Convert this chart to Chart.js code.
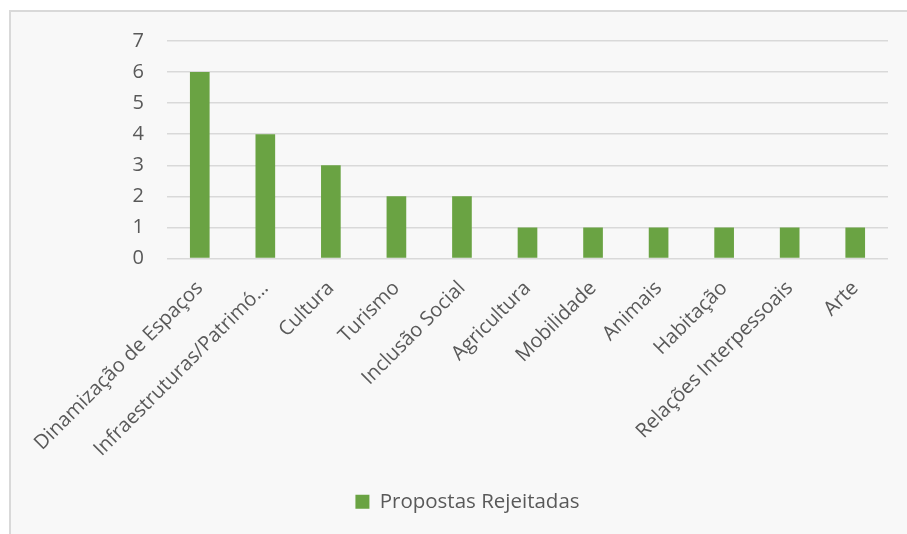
<!DOCTYPE html>
<html>
<head>
<meta charset="utf-8">
<script src="https://cdn.jsdelivr.net/npm/chart.js@4"></script>
<style>
  html, body { margin: 0; padding: 0; background: #fff; }
  #wrap { position: relative; width: 907px; height: 534px; overflow: hidden; }
  #box {
    position: absolute; left: 9px; top: 10px; width: 910px; height: 540px;
    background: #f8f8f8; border-left: 2px solid #d9d9d9; border-top: 2px solid #d9d9d9;
  }
  #grafico { position: absolute; left: 0; top: 0; }
</style>
</head>
<body>
<div id="wrap">
  <div id="box"></div>
  <canvas id="grafico" width="907" height="534"></canvas>
</div>
<script>
// categorias e valores
const categorias = [
  "Dinamização de Espaços",
  "Infraestruturas/Patrimó…",
  "Cultura",
  "Turismo",
  "Inclusão Social",
  "Agricultura",
  "Mobilidade",
  "Animais",
  "Habitação",
  "Relações Interpessoais",
  "Arte"
];
const rejeitadas = [6, 4, 3, 2, 2, 1, 1, 1, 1, 1, 1];
const yTicks = [0, 1, 2, 3, 4, 5, 6, 7];

const FONTE = "'Open Sans', 'Noto Sans', sans-serif";
const COR_TEXTO = "#595959";

Chart.defaults.font.family = FONTE;
Chart.defaults.color = COR_TEXTO;

const ctx = document.getElementById("grafico").getContext("2d");
new Chart(ctx, {
  type: "bar",
  data: {
    labels: categorias,
    datasets: [{
      label: "Propostas Rejeitadas",
      data: rejeitadas,
      backgroundColor: "#6aa343",
      barPercentage: 0.3,
      categoryPercentage: 1
    }]
  },
  options: {
    responsive: false,
    animation: false,
    layout: { padding: { left: 47, right: 19, top: 41, bottom: 12 } },
    plugins: {
      legend: {
        position: "bottom",
        labels: { boxWidth: 14, boxHeight: 14, padding: 10, font: { size: 20.5 }, color: COR_TEXTO }
      },
      tooltip: { enabled: false }
    },
    scales: {
      x: {
        grid: { display: false, drawTicks: false },
        border: { display: false },
        ticks: { autoSkip: false, minRotation: 45, maxRotation: 45, padding: 18, font: { size: 20 } },
        afterFit: s => { s.height = 223; }
      },
      y: {
        min: 0,
        max: yTicks[yTicks.length - 1],
        afterBuildTicks: s => { s.ticks = yTicks.map(v => ({ value: v })); },
        grid: { color: "#d9d9d9", lineWidth: 1.5, drawTicks: false },
        border: { display: false },
        ticks: { padding: 23, font: { size: 20 } },
        afterFit: s => { s.width = 120; }
      }
    }
  }
});
</script>
</body>
</html>
